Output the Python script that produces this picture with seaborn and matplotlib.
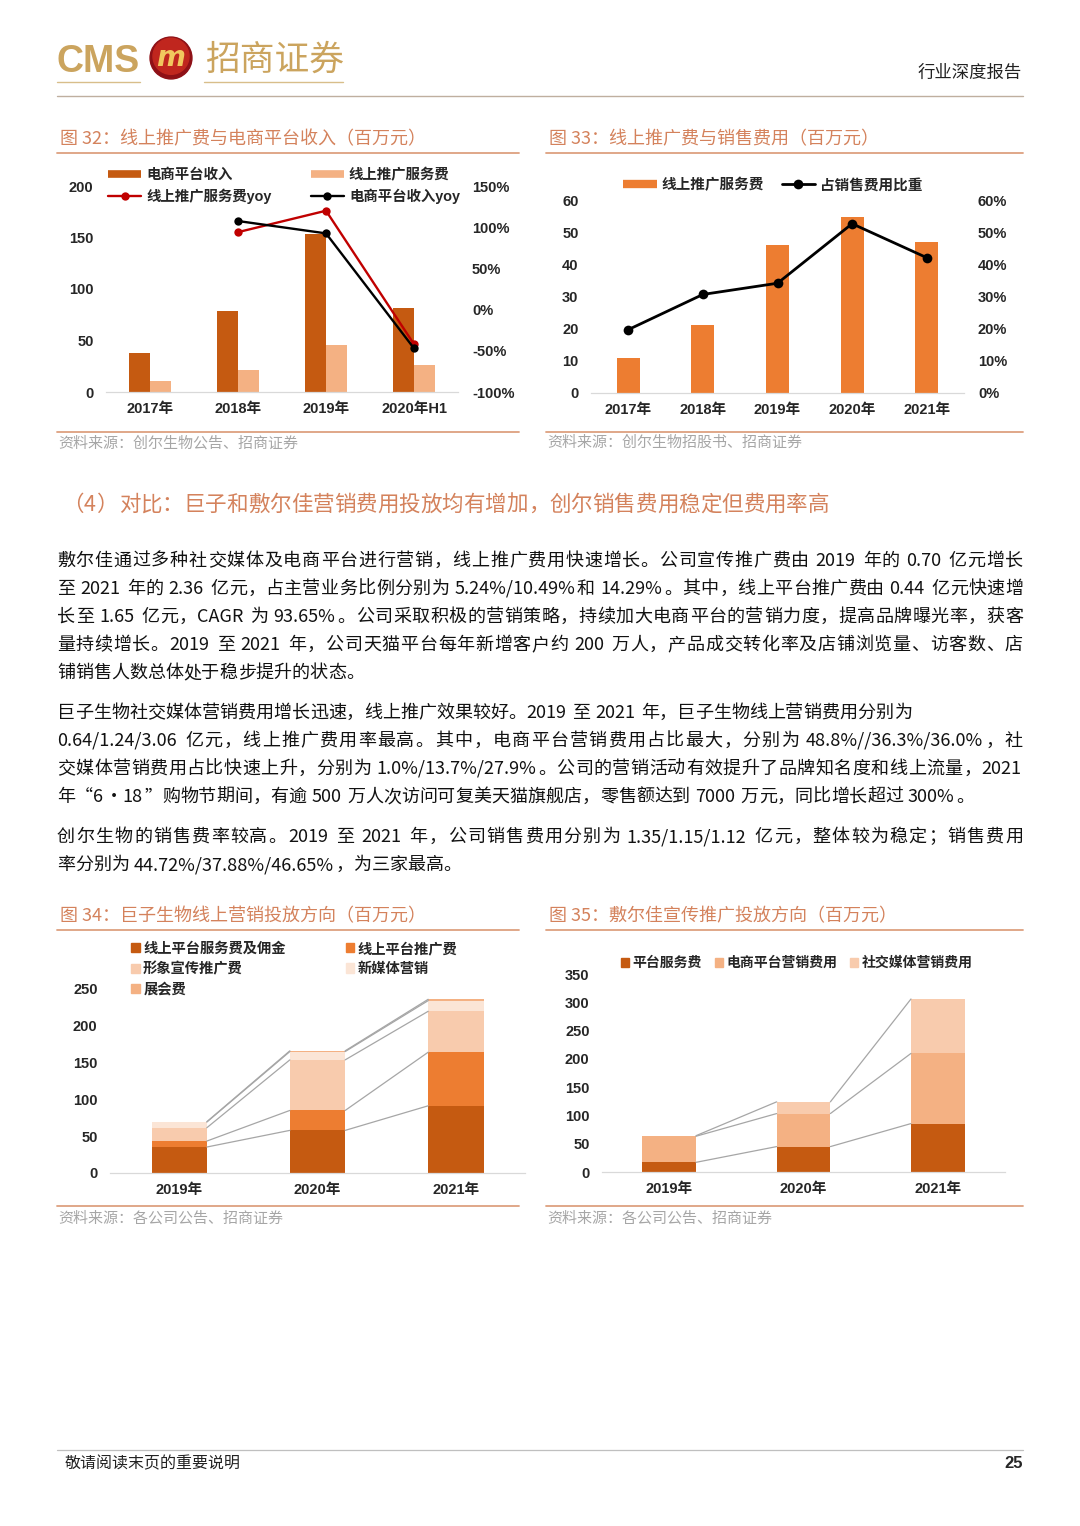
import re
import numpy as np
import pandas as pd
import matplotlib
matplotlib.use('Agg')
import matplotlib.pyplot as plt
import seaborn as sns
from matplotlib.lines import Line2D
from matplotlib.patches import Patch, Circle
from matplotlib.ticker import PercentFormatter

sns.set_style('white')
plt.rcParams['font.family'] = ['Liberation Sans', 'Noto Sans CJK SC']
plt.rcParams['axes.unicode_minus'] = False

# ---- data ----
years32 = ['2017年', '2018年', '2019年', '2020年H1']
ecom_rev32 = [38, 79, 153, 82]
promo_fee32 = [10.8, 21, 46, 26.5]
promo_yoy32 = [np.nan, 0.94, 1.20, -0.42]
ecom_yoy32 = [np.nan, 1.075, 0.925, -0.47]

years33 = ['2017年', '2018年', '2019年', '2020年', '2021年']
promo_fee33 = [10.9, 21.1, 46.4, 55.0, 47.2]
sales_ratio33 = [0.198, 0.308, 0.343, 0.529, 0.423]

years34 = ['2019年', '2020年', '2021年']
labels34 = ['线上平台服务费及佣金', '线上平台推广费', '形象宣传推广费', '新媒体营销', '展会费']
service34 = [35.3, 57.9, 91.3]
platform34 = [8.1, 27.1, 72.8]
image34 = [18.1, 68.7, 55.6]
newmedia34 = [7.7, 11.3, 14.5]
expo34 = [0.5, 1.0, 1.8]

years35 = ['2019年', '2020年', '2021年']
labels35 = ['平台服务费', '电商平台营销费用', '社交媒体营销费用']
service35 = [17.1, 44.9, 85.6]
ecom35 = [46.1, 58.4, 124.0]
social35 = [1.0, 20.7, 96.2]

heading = '（4）对比：巨子和敷尔佳营销费用投放均有增加，创尔销售费用稳定但费用率高'
paragraphs = [
    ['敷尔佳通过多种社交媒体及电商平台进行营销，线上推广费用快速增长。公司宣传推广费由 2019 年的 0.70 亿元增长',
     '至 2021 年的 2.36 亿元，占主营业务比例分别为 5.24%/10.49%和 14.29%。其中，线上平台推广费由 0.44 亿元快速增',
     '长至 1.65 亿元，CAGR 为 93.65%。公司采取积极的营销策略，持续加大电商平台的营销力度，提高品牌曝光率，获客',
     '量持续增长。2019 至 2021 年，公司天猫平台每年新增客户约 200 万人，产品成交转化率及店铺浏览量、访客数、店',
     '铺销售人数总体处于稳步提升的状态。'],
    ['巨子生物社交媒体营销费用增长迅速，线上推广效果较好。2019 至 2021 年，巨子生物线上营销费用分别为',
     '0.64/1.24/3.06 亿元，线上推广费用率最高。其中，电商平台营销费用占比最大，分别为 48.8%//36.3%/36.0%，社',
     '交媒体营销费用占比快速上升，分别为 1.0%/13.7%/27.9%。公司的营销活动有效提升了品牌知名度和线上流量，2021',
     '年“6·18”购物节期间，有逾 500 万人次访问可复美天猫旗舰店，零售额达到 7000 万元，同比增长超过 300%。'],
    ['创尔生物的销售费率较高。2019 至 2021 年，公司销售费用分别为 1.35/1.15/1.12 亿元，整体较为稳定；销售费用',
     '率分别为 44.72%/37.88%/46.65%，为三家最高。'],
]
para_y = [[561, 589, 617, 645, 673], [713, 741, 769, 797], [837, 865]]
para_justify = [[True, True, True, True, False], [False, True, True, False], [True, False]]

DARK = '#C55A11'
ORANGE = '#ED7D31'
PEACH = '#F4B183'
LIGHT = '#F8CBAD'
PALE = '#FBE5D6'
TITLE_C = '#D4825C'
LINE_C = '#DDA07F'
SRC_C = '#A6A6A6'
CJK = ['Noto Sans CJK SC']

W, H = 1080, 1526
fig = plt.figure(figsize=(W / 100, H / 100), dpi=100)
renderer = fig.canvas.get_renderer()


def ax_px(x0, y0, x1, y1):
    return fig.add_axes([x0 / W, 1 - y1 / H, (x1 - x0) / W, (y1 - y0) / H])


def txt(x, y, s, **kw):
    kw.setdefault('va', 'center')
    return fig.text(x / W, 1 - y / H, s, **kw)


def hline(x0, x1, y, color, lw=1.0):
    fig.add_artist(Line2D([x0 / W, x1 / W], [1 - y / H, 1 - y / H], color=color, lw=lw))


def em(size):
    return size * 100 / 72


def text_line(y, s, justify=True, size=13, x0=57, x1=1023, **kw):
    items = []
    for p in re.findall(r'[!-~]+| |.', s):
        if p == ' ':
            items.append((None, 0.25 * em(size)))
            continue
        t = txt(0, y, p, fontsize=size, **kw)
        if ord(p[0]) < 128:
            items.append((t, t.get_window_extent(renderer).width + 0.08 * em(size)))
        else:
            items.append((t, em(size)))
    gap = (x1 - x0 - sum(w for _, w in items)) / (len(items) - 1) if justify else 0
    x = x0
    for t, w in items:
        if t is not None:
            t.set_x(x / W)
        x += w + gap


def style(ax, ymax, step):
    ax.set_ylim(0, ymax)
    ax.set_yticks(np.arange(0, ymax + 0.001, step))
    for s in ['top', 'right', 'left']:
        ax.spines[s].set_visible(False)
    ax.spines['bottom'].set_color('#D9D9D9')
    ax.spines['bottom'].set_linewidth(0.9)
    ax.tick_params(length=0, labelsize=10.5)
    ax.tick_params(axis='y', pad=9)
    ax.tick_params(axis='x', pad=7.5)
    ax.set_xlabel('')
    ax.set_ylabel('')
    for lab in ax.get_xticklabels() + ax.get_yticklabels():
        lab.set_fontweight('bold')


def style_right(ax2, lo, hi, step):
    ax2.set_ylim(lo, hi)
    ax2.set_yticks(np.arange(lo, hi + 0.001, step))
    ax2.yaxis.set_major_formatter(PercentFormatter(1.0, decimals=0))
    for s in ax2.spines.values():
        s.set_visible(False)
    ax2.tick_params(length=0, labelsize=10.5, pad=10)
    ax2.set_ylabel('')
    for lab in ax2.get_yticklabels():
        lab.set_fontweight('bold')


def stacked(ax, years, series, colors, width=0.4):
    cum = np.cumsum(np.array(series), axis=0)
    for level, color in reversed(list(zip(cum, colors))):
        sns.barplot(x=years, y=level, color=color, width=width, saturation=1,
                    linewidth=0, ax=ax)
    for level in cum:
        for i in range(len(years) - 1):
            ax.plot([i + width / 2, i + 1 - width / 2], [level[i], level[i + 1]],
                    color='#A6A6A6', lw=0.9, zorder=3)


# ---- page header ----
txt(57, 62, 'CMS', fontsize=27, weight='bold', color='#CBA45E', family='Liberation Sans')
logo = ax_px(149, 36, 193, 80)
logo.set_xlim(-1.05, 1.05)
logo.set_ylim(-1.05, 1.05)
logo.set_aspect('equal')
logo.axis('off')
logo.add_patch(Circle((0, 0), 1, color='#8E1016'))
logo.add_patch(Circle((0, 0.08), 0.86, color='#C0261E'))
logo.text(0, -0.02, 'm', ha='center', va='center', fontsize=20, weight='bold',
          style='italic', color='#F1C75E', family='DejaVu Sans')
txt(205, 60, '招商证券', fontsize=25, color='#CBA45E', family=CJK)
hline(57, 140, 82, '#D8BE8A', 1.0)
hline(204, 343, 82, '#D8BE8A', 1.0)
txt(1022, 73, '行业深度报告', fontsize=12.5, ha='right', family=CJK, color='#222222')
hline(57, 1023, 96, '#BFAF9F', 1.0)

# ---- chart titles and sources ----
for x0, x1, ty, ly, sy, sly, title, src in [
        (57, 519, 139, 153, 443, 432, '图 32：线上推广费与电商平台收入（百万元）', '资料来源：创尔生物公告、招商证券'),
        (546, 1023, 139, 153, 443, 432, '图 33：线上推广费与销售费用（百万元）', '资料来源：创尔生物招股书、招商证券'),
        (57, 519, 916, 930, 1218, 1206, '图 34：巨子生物线上营销投放方向（百万元）', '资料来源：各公司公告、招商证券'),
        (546, 1023, 916, 930, 1218, 1206, '图 35：敷尔佳宣传推广投放方向（百万元）', '资料来源：各公司公告、招商证券')]:
    txt(x0 + 3, ty, title, fontsize=13, color=TITLE_C, family=CJK)
    hline(x0, x1, ly, LINE_C, 1.3)
    hline(x0, x1, sly, LINE_C, 1.3)
    txt(x0 + 1, sy, src, fontsize=10.8, color=SRC_C, family=CJK)

# ---- chart 32 ----
ax = ax_px(106, 186, 458, 392)
df32 = pd.DataFrame({'year': years32 * 2,
                     'value': ecom_rev32 + promo_fee32,
                     'kind': ['电商平台收入'] * len(years32) + ['线上推广服务费'] * len(years32)})
sns.barplot(data=df32, x='year', y='value', hue='kind', palette=[DARK, PEACH],
            width=0.47, saturation=1, linewidth=0, legend=False, ax=ax)
style(ax, 200, 50)
ax2 = ax.twinx()
pos32 = np.arange(len(years32))
sns.lineplot(x=pos32, y=promo_yoy32, color='#C00000', marker='o', markersize=6,
             markeredgewidth=0, lw=1.7, ax=ax2)
sns.lineplot(x=pos32, y=ecom_yoy32, color='black', marker='o', markersize=6,
             markeredgewidth=0, lw=1.7, ax=ax2)
style_right(ax2, -1.0, 1.5, 0.5)
ax.set_xlim(-0.5, len(years32) - 0.5)
fig.legend([Line2D([], [], color=DARK, lw=5.5, solid_capstyle='butt'),
            Line2D([], [], color='#C00000', lw=1.7, marker='o', ms=6, mew=0),
            Line2D([], [], color=PEACH, lw=5.5, solid_capstyle='butt'),
            Line2D([], [], color='black', lw=1.7, marker='o', ms=6, mew=0)],
           ['电商平台收入', '线上推广服务费yoy', '线上推广服务费', '电商平台收入yoy'],
           ncol=2, loc='upper left', bbox_to_anchor=(108 / W, 1 - 168 / H),
           frameon=False, handlelength=2.3, handletextpad=0.35, columnspacing=2.7,
           labelspacing=0.42, borderpad=0, borderaxespad=0,
           prop={'weight': 'bold', 'size': 10.4})

# ---- chart 33 ----
ax = ax_px(591, 201, 964, 393)
sns.barplot(x=years33, y=promo_fee33, color=ORANGE, width=0.31, saturation=1,
            linewidth=0, ax=ax)
style(ax, 60, 10)
ax2 = ax.twinx()
sns.lineplot(x=np.arange(len(years33)), y=sales_ratio33, color='black', marker='o',
             markersize=7, markeredgewidth=0, lw=2, ax=ax2)
style_right(ax2, 0, 0.6, 0.1)
ax.set_xlim(-0.5, len(years33) - 0.5)
fig.legend([Line2D([], [], color=ORANGE, lw=6, solid_capstyle='butt'),
            Line2D([], [], color='black', lw=2, marker='o', ms=7, mew=0)],
           ['线上推广服务费', '占销售费用比重'],
           ncol=2, loc='upper left', bbox_to_anchor=(623 / W, 1 - 178 / H),
           frameon=False, handlelength=2.3, handletextpad=0.35, columnspacing=1.2,
           borderpad=0, borderaxespad=0, prop={'weight': 'bold', 'size': 10.5})

# ---- chart 34 ----
ax = ax_px(110, 989, 525, 1173)
colors34 = [DARK, ORANGE, LIGHT, PALE, PEACH]
stacked(ax, years34, [service34, platform34, image34, newmedia34, expo34], colors34, 0.4)
style(ax, 250, 50)
ax.set_xlim(-0.5, len(years34) - 0.5)
fig.legend([Patch(color=c) for c in [colors34[0], colors34[2], colors34[4], colors34[1], colors34[3]]],
           [labels34[0], labels34[2], labels34[4], labels34[1], labels34[3]],
           ncol=2, loc='upper left', bbox_to_anchor=(131 / W, 1 - 942 / H),
           frameon=False, handlelength=0.6, handleheight=0.6, handletextpad=0.25,
           columnspacing=4.2, labelspacing=0.42, borderpad=0, borderaxespad=0,
           prop={'weight': 'bold', 'size': 10.3})

# ---- chart 35 ----
ax = ax_px(602, 974, 1005, 1172)
colors35 = [DARK, PEACH, LIGHT]
stacked(ax, years35, [service35, ecom35, social35], colors35, 0.4)
style(ax, 350, 50)
ax.set_xlim(-0.5, len(years35) - 0.5)
fig.legend([Patch(color=c) for c in colors35], labels35,
           ncol=3, loc='upper left', bbox_to_anchor=(621 / W, 1 - 956 / H),
           frameon=False, handlelength=0.6, handleheight=0.6, handletextpad=0.25,
           columnspacing=0.9, borderpad=0, borderaxespad=0,
           prop={'weight': 'bold', 'size': 10})

# ---- body text ----
text_line(505, heading, justify=False, size=15.5, x0=62, color=TITLE_C, family=CJK)
for lines, ys, justs in zip(paragraphs, para_y, para_justify):
    for s, y, j in zip(lines, ys, justs):
        text_line(y, s, justify=j, size=13, color='#111111', family=CJK)

# ---- footer ----
hline(57, 1023, 1450, '#BFBFBF', 0.9)
txt(65, 1464, '敬请阅读末页的重要说明', fontsize=11.5, family=CJK, color='#222222')
txt(1023, 1464, '25', fontsize=12, weight='bold', ha='right', family='Liberation Sans')

fig.savefig('out.png', dpi=100)
